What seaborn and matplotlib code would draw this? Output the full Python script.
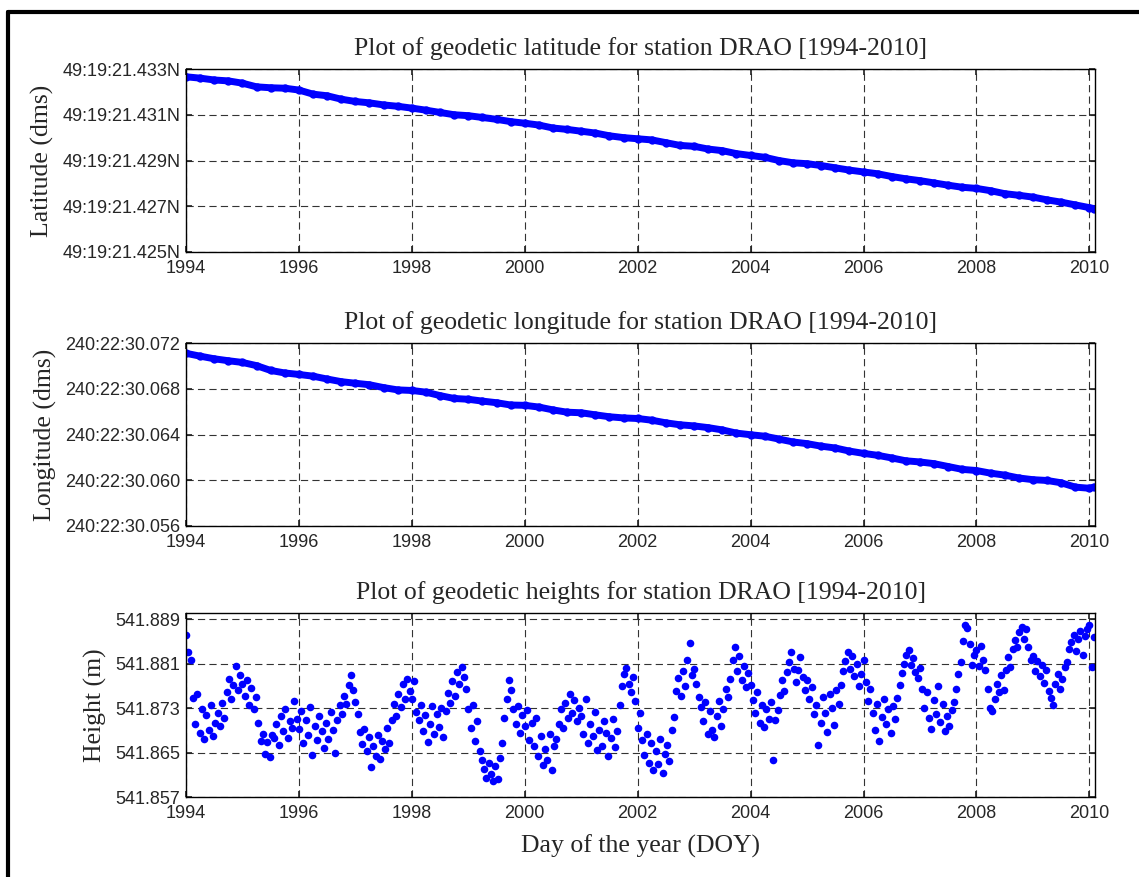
import numpy as np
import pandas as pd
import seaborn as sns
import matplotlib.pyplot as plt
from matplotlib.lines import Line2D
from matplotlib.ticker import FuncFormatter

# ---------------------------------------------------------------
# Station DRAO coordinate series
# ---------------------------------------------------------------
# latitude / longitude: quarterly samples 1994.00 ... 2010.00, plus 2010.08
coord_years = list(np.arange(1994.0, 2010.01, 0.25)) + [2010.08]

# latitude seconds beyond 49:19:21.4, in milli-arcseconds
lat_mas = [
    32.66, 32.60, 32.52, 32.48, 32.38, 32.22, 32.18, 32.16,
    32.08, 31.90, 31.83, 31.68, 31.58, 31.52, 31.43, 31.37,
    31.29, 31.20, 31.10, 31.00, 30.96, 30.88, 30.80, 30.70,
    30.63, 30.55, 30.42, 30.36, 30.28, 30.20, 30.08, 30.00,
    29.95, 29.90, 29.78, 29.66, 29.62, 29.50, 29.43, 29.30,
    29.22, 29.14, 29.00, 28.90, 28.86, 28.78, 28.68, 28.58,
    28.50, 28.42, 28.30, 28.20, 28.12, 28.02, 27.92, 27.83,
    27.78, 27.68, 27.55, 27.48, 27.40, 27.28, 27.18, 27.06,
    26.94, 26.90,
]

# longitude seconds beyond 240:22:30.0, in milli-arcseconds
lon_mas = [
    71.10, 70.85, 70.62, 70.45, 70.30, 70.02, 69.60, 69.38,
    69.25, 69.10, 68.85, 68.62, 68.48, 68.35, 68.10, 67.90,
    67.85, 67.70, 67.40, 67.15, 67.08, 66.92, 66.78, 66.58,
    66.55, 66.40, 66.15, 65.95, 65.90, 65.72, 65.55, 65.45,
    65.40, 65.25, 65.02, 64.85, 64.75, 64.60, 64.40, 64.12,
    63.98, 63.85, 63.60, 63.35, 63.20, 62.98, 62.82, 62.55,
    62.35, 62.18, 61.95, 61.70, 61.60, 61.45, 61.20, 60.95,
    60.85, 60.62, 60.45, 60.20, 60.05, 59.98, 59.78, 59.40,
    59.30, 59.40,
]

# heights: one sample every 0.04 yr from 1994.00, in mm above 541.800 m
height_step = 0.04
height_mm = [
    # 1994
    86.1, 83.1, 81.7, 74.8, 70.2, 75.6, 68.5, 72.9, 67.4, 71.8, 69.1, 73.6, 68.0,
    70.4, 72.1, 69.8, 73.9, 71.2, 75.8, 78.3, 74.6, 77.1, 80.6, 76.2, 78.9,
    # 1995
    77.4, 75.2, 78.1, 73.5, 76.6, 72.8, 74.9, 70.3, 67.1, 68.4, 64.8, 66.9, 64.2,
    68.1, 67.6, 70.2, 66.3, 71.5, 68.8, 72.9, 67.7, 70.6, 69.4, 74.2, 71.1,
    # 1996
    69.3, 72.4, 66.8, 70.9, 68.1, 73.2, 64.5, 69.7, 67.2, 71.6, 68.9, 65.8, 70.4,
    67.5, 72.3, 69.1, 64.9, 70.8, 73.6, 71.9, 75.2, 73.8, 77.1, 79.0, 76.3,
    # 1997
    74.1, 72.0, 68.7, 66.5, 69.3, 65.2, 67.8, 62.4, 66.1, 64.3, 68.2, 63.9, 67.0,
    65.6, 69.4, 66.8, 70.9, 73.8, 71.5, 75.6, 73.2, 77.4, 74.7, 78.3, 76.0,
    # 1998
    74.6, 77.9, 72.3, 70.8, 73.5, 68.9, 71.7, 66.9, 70.2, 73.4, 68.4, 71.9, 69.6,
    73.1, 67.8, 72.5, 75.7, 73.9, 77.8, 75.1, 79.4, 77.3, 80.4, 78.6, 76.5,
    # 1999
    72.8, 69.4, 73.5, 67.1, 70.6, 65.3, 63.7, 62.1, 60.4, 63.2, 61.1, 59.8, 62.6,
    60.2, 64.1, 66.8, 71.3, 74.6, 78.1, 76.2, 72.9, 70.1, 73.4, 68.5, 71.7,
    # 2000
    69.8, 72.6, 67.3, 70.4, 66.1, 71.2, 64.3, 67.9, 62.8, 65.7, 63.6, 68.4, 61.9,
    66.2, 67.5, 70.1, 72.8, 69.4, 73.9, 71.3, 75.6, 72.1, 74.4, 70.7, 73.0,
    # 2001
    71.5, 68.3, 74.6, 66.7, 70.2, 67.9, 72.3, 65.4, 69.1, 66.2, 70.7, 68.5, 64.4,
    67.6, 71.0, 66.0, 68.8, 73.5, 76.9, 79.1, 80.2, 77.4, 75.8, 78.6, 74.3,
    # 2002
    69.5, 72.1, 67.2, 64.6, 68.3, 63.1, 66.7, 61.8, 65.2, 62.9, 67.4, 61.3, 64.8,
    66.3, 63.5, 69.0, 71.4, 76.1, 78.4, 75.2, 79.6, 77.0, 81.7, 84.7, 78.9,
    # 2003
    80.1, 77.3, 75.0, 73.2, 70.6, 74.1, 68.3, 72.4, 69.1, 67.8, 71.5, 74.3, 69.7,
    72.8, 76.4, 74.9, 78.2, 81.6, 83.9, 79.7, 82.4, 78.1, 80.6, 76.8, 79.3,
    # 2004
    77.2, 74.5, 72.1, 75.9, 70.3, 73.6, 69.6, 72.8, 71.1, 74.0, 63.7, 70.8, 72.6,
    75.3, 78.1, 76.0, 79.4, 81.2, 83.0, 80.1, 77.7, 79.9, 82.2, 78.5, 76.3,
    # 2005
    78.0, 74.7, 76.8, 71.9, 73.5, 66.3, 70.4, 74.9, 72.2, 68.7, 75.6, 73.1, 70.0,
    76.3, 73.8, 77.2, 79.6, 81.4, 83.1, 80.0, 82.4, 78.7, 81.0, 76.9, 79.2,
    # 2006
    81.6, 77.6, 74.3, 76.5, 72.1, 69.0, 73.7, 67.1, 71.4, 74.6, 70.2, 72.9, 68.6,
    73.3, 71.0, 74.8, 77.2, 79.3, 81.0, 82.6, 83.5, 80.8, 82.0, 79.5, 78.4,
    # 2007
    80.2, 76.4, 73.1, 75.8, 71.2, 69.3, 74.4, 72.0, 76.9, 70.5, 73.7, 68.9, 71.6,
    69.8, 72.6, 74.1, 76.5, 79.2, 81.3, 85.0, 87.9, 87.4, 84.6, 80.8, 82.5,
    # 2008
    83.4, 80.6, 84.2, 81.7, 79.9, 76.5, 73.1, 72.4, 74.6, 77.3, 75.8, 78.9, 76.2,
    79.8, 82.1, 80.3, 83.7, 85.2, 84.0, 86.6, 87.6, 85.5, 87.3, 83.9, 81.6,
    # 2009
    82.3, 79.6, 81.4, 78.8, 80.7, 77.5, 79.9, 76.1, 74.8, 73.6, 77.4, 79.2, 76.5,
    78.3, 80.4, 81.2, 83.6, 84.8, 86.2, 83.3, 85.4, 86.9, 82.6, 85.9, 87.3,
    # 2010
    88.0, 80.4, 85.8,
]

year_ticks = list(range(1994, 2011, 2))
lat_ticks = [21.425, 21.427, 21.429, 21.431, 21.433]
lon_ticks = [30.056, 30.060, 30.064, 30.068, 30.072]
h_ticks = [541.857, 541.865, 541.873, 541.881, 541.889]

# ---------------------------------------------------------------
coord_df = pd.DataFrame({
    "year": coord_years,
    "lat": [21.4 + v / 1000 for v in lat_mas],
    "lon": [30.0 + v / 1000 for v in lon_mas],
})
height_df = pd.DataFrame({
    "year": 1994.0 + height_step * np.arange(len(height_mm)),
    "h": [541.8 + v / 1000 for v in height_mm],
})

sns.set_theme(style="ticks")
plt.rcParams.update({
    "font.family": ["Liberation Sans", "DejaVu Sans"],
    "xtick.direction": "in",
    "ytick.direction": "in",
    "xtick.top": True,
    "ytick.right": True,
    "xtick.major.size": 4,
    "ytick.major.size": 4,
    "xtick.major.pad": 6,
    "ytick.major.pad": 4,
    "xtick.labelsize": 13,
    "ytick.labelsize": 13,
    "axes.linewidth": 1.0,
    "axes.edgecolor": "black",
})

serif = ["Liberation Serif", "DejaVu Serif"]
blue = "#0000ff"

fig = plt.figure(figsize=(11.39, 8.77), dpi=100)
L, W = 186 / 1139, 909 / 1139
ax1 = fig.add_axes([L, 1 - 252 / 877, W, 183 / 877])
ax2 = fig.add_axes([L, 1 - 526 / 877, W, 183 / 877])
ax3 = fig.add_axes([L, 1 - 797 / 877, W, 184 / 877])

line_kw = dict(color=blue, linewidth=5, marker="o", markersize=6,
               markeredgewidth=0, sort=False, legend=False)
sns.lineplot(data=coord_df, x="year", y="lat", ax=ax1, **line_kw)
sns.lineplot(data=coord_df, x="year", y="lon", ax=ax2, **line_kw)
sns.scatterplot(data=height_df, x="year", y="h", ax=ax3, color=blue,
                s=30, linewidth=0, legend=False)

panels = [
    (ax1, lat_ticks, "Plot of geodetic latitude for station DRAO [1994-2010]",
     "Latitude (dms)", lambda v, p: f"49:19:{v:06.3f}N"),
    (ax2, lon_ticks, "Plot of geodetic longitude for station DRAO [1994-2010]",
     "Longitude (dms)", lambda v, p: f"240:22:{v:06.3f}"),
    (ax3, h_ticks, "Plot of geodetic heights for station DRAO [1994-2010]",
     "Height (m)", lambda v, p: f"{v:.3f}"),
]

for ax, yt, title, ylab, fmt in panels:
    ax.set_xlim(1994, 2010.1)
    ax.set_xticks(year_ticks)
    ax.set_yticks(yt)
    ax.yaxis.set_major_formatter(FuncFormatter(fmt))
    if ax is ax3:
        ax.set_ylim(yt[0], 541.8901)
    else:
        ax.set_ylim(yt[0], yt[-1])
    ax.grid(True, color="#333333", linewidth=0.8, linestyle=(0, (6.5, 3.8)))
    ax.set_axisbelow(True)
    ax.set_title(title, family=serif, fontsize=18.5, pad=10)
    ax.set_ylabel(ylab, family=serif, fontsize=18.5, labelpad=6)
    ax.set_xlabel("")
    for s in ax.spines.values():
        s.set_visible(True)

ax3.set_xlabel("Day of the year (DOY)", family=serif, fontsize=18.5, labelpad=9)

# frame lines of the original (cropped) figure window
fig.add_artist(Line2D([8 / 1139, 8 / 1139], [0, 1 - 12 / 877],
                      transform=fig.transFigure, color="black", linewidth=3))
fig.add_artist(Line2D([8 / 1139, 1], [1 - 12 / 877, 1 - 12 / 877],
                      transform=fig.transFigure, color="black", linewidth=3))

fig.savefig("out.png", dpi=100)
